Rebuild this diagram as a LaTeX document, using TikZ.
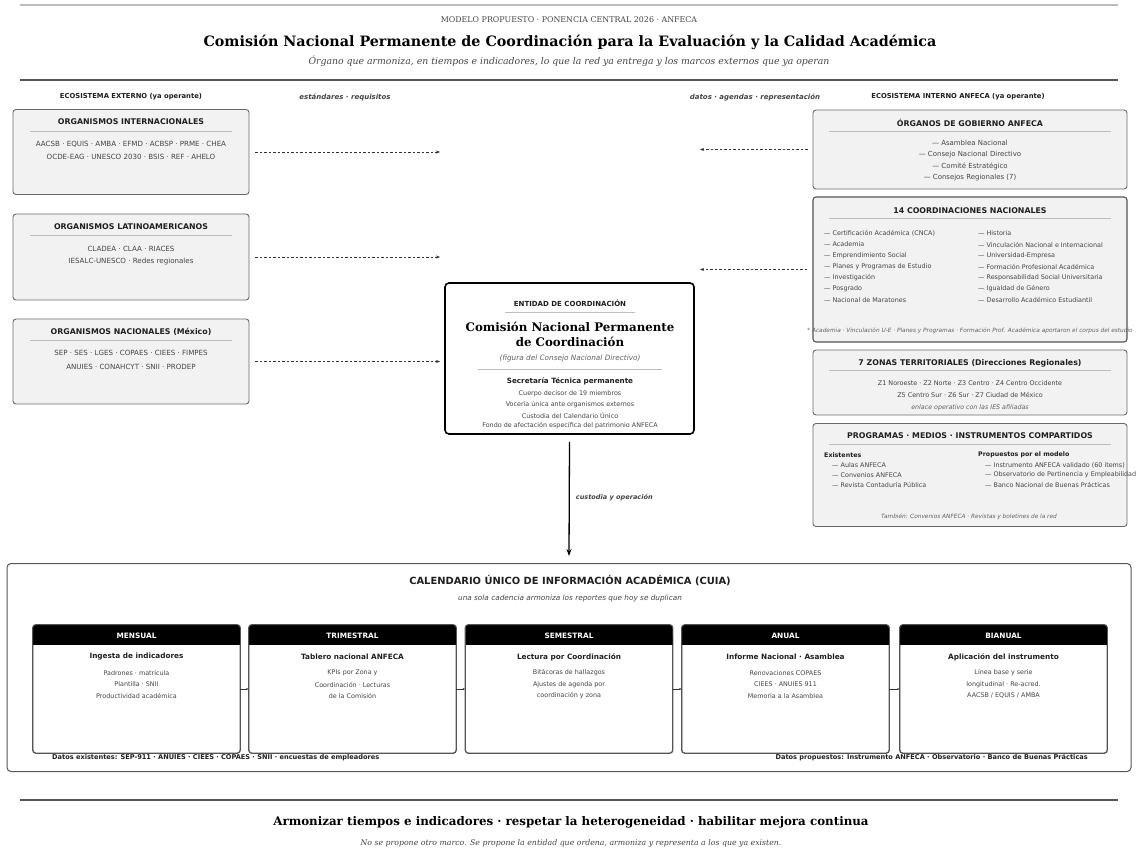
\documentclass[tikz,border=0pt]{standalone}
\usepackage{fontspec}
\setmainfont{DejaVu Serif}
\setsansfont{DejaVu Sans}
\usetikzlibrary{arrows.meta}
\definecolor{boxfill}{HTML}{F2F2F2}
\definecolor{boxline}{HTML}{6A6A6A}
\definecolor{txt}{HTML}{444444}
\definecolor{rulec}{HTML}{BDBDBD}
\definecolor{darkrule}{HTML}{555555}
\newcommand{\fs}[1]{\fontsize{#1}{#1}\selectfont}
\tikzset{
  panel/.style={draw=boxline, line width=0.9pt, fill=boxfill, rounded corners=3pt, inner sep=0pt},
  panelD/.style={draw=darkrule, line width=1.1pt, fill=boxfill, rounded corners=3pt, inner sep=0pt},
  calbox/.style={draw=darkrule, line width=0.8pt, fill=white, rounded corners=3pt, inner sep=0pt, minimum width=207, minimum height=128},
  ptitle/.style={font=\sffamily\bfseries\fs{7.85}, text=black!88, inner sep=0pt},
  body/.style={font=\sffamily\fs{6.4}, text=txt, inner sep=0pt},
  bodyW/.style={font=\sffamily\fs{7.1}, text=txt, inner sep=0pt},
  bodyL/.style={font=\sffamily\fs{6.4}, text=txt, inner sep=0pt, anchor=west},
  note/.style={font=\sffamily\itshape\fs{5.8}, text=txt!85, inner sep=0pt},
  collab/.style={font=\sffamily\bfseries\fs{6.8}, text=black!88, inner sep=0pt},
  flowlab/.style={font=\sffamily\bfseries\itshape\fs{7}, text=txt, inner sep=0pt},
  trule/.style={rulec, line width=0.9pt},
  dasharrow/.style={dashed, dash pattern=on 2.5pt off 2pt, line width=0.6pt, black!80, -{Stealth[length=4pt,width=3pt]}},
  calarrow/.style={line width=0.5pt, black!80, -{Stealth[length=2.5pt,width=2pt]}},
  hdr/.style={font=\sffamily\bfseries\fs{7.35}, text=white, inner sep=0pt},
  csub/.style={font=\sffamily\bfseries\fs{7.3}, text=black!88, inner sep=0pt},
}
\begin{document}
\begin{tikzpicture}[x=1pt,y=-1pt]
\useasboundingbox[fill=white] (0,0) rectangle (1138,853);

% ---------- header ----------
\draw[rulec, line width=1.5pt] (20,5) -- (1118,5);
\node[font=\rmfamily\fs{7.9}, text=txt, inner sep=0pt] (kicker) at (569,20) {MODELO PROPUESTO · PONENCIA CENTRAL 2026 · ANFECA};
\node[font=\rmfamily\bfseries\fs{14.3}, text=black, inner sep=0pt] (title) at (570,42) {Comisión Nacional Permanente de Coordinación para la Evaluación y la Calidad Académica};
\node[font=\rmfamily\itshape\fs{9.3}, text=txt, inner sep=0pt] (subtitle) at (569,61) {Órgano que armoniza, en tiempos e indicadores, lo que la red ya entrega y los marcos externos que ya operan};
\draw[darkrule, line width=1.5pt] (20,80) -- (1118,80);

\node[collab] (extlab) at (131,97) {ECOSISTEMA EXTERNO (ya operante)};
\node[flowlab] (stdlab) at (345,97) {estándares · requisitos};
\node[flowlab] (datlab) at (755,97) {datos · agendas · representación};
\node[collab] (intlab) at (958,97) {ECOSISTEMA INTERNO ANFECA (ya operante)};

% ---------- left boxes ----------
\node[panel, minimum width=236, minimum height=85] (lb1) at (131,152) {};
\node[ptitle] (lb1t) at (131,122) {ORGANISMOS INTERNACIONALES};
\draw[trule] (30,131) -- (232,131);
\node[bodyW] (lb1a) at (131,144) {AACSB · EQUIS · AMBA · EFMD · ACBSP · PRME · CHEA};
\node[bodyW] (lb1b) at (131,157) {OCDE-EAG · UNESCO 2030 · BSIS · REF · AHELO};

\node[panel, minimum width=236, minimum height=86] (lb2) at (131,257) {};
\node[ptitle] (lb2t) at (131,227) {ORGANISMOS LATINOAMERICANOS};
\draw[trule] (30,235) -- (232,235);
\node[bodyW] (lb2a) at (131,249) {CLADEA · CLAA · RIACES};
\node[bodyW] (lb2b) at (131,262) {IESALC-UNESCO · Redes regionales};

\node[panel, minimum width=236, minimum height=85] (lb3) at (131,361.5) {};
\node[ptitle] (lb3t) at (131,332) {ORGANISMOS NACIONALES (México)};
\draw[trule] (30,340) -- (232,340);
\node[bodyW] (lb3a) at (131,353) {SEP · SES · LGES · COPAES · CIEES · FIMPES};
\node[bodyW] (lb3b) at (131,366.5) {ANUIES · CONAHCYT · SNII · PRODEP};

\coordinate (la1) at (440,152);
\coordinate (la2) at (440,257);
\coordinate (la3) at (440,361.5);
\draw[dasharrow] ([xshift=6pt]lb1.east) -- (la1);
\draw[dasharrow] ([xshift=6pt]lb2.east) -- (la2);
\draw[dasharrow] ([xshift=6pt]lb3.east) -- (la3);

% ---------- right boxes ----------
\node[panel, minimum width=314, minimum height=79] (rg1) at (970,149.5) {};
\node[ptitle] (rg1t) at (970,123) {ÓRGANOS DE GOBIERNO ANFECA};
\draw[trule] (829,131) -- (1111,131);
\node[font=\sffamily\fs{6.95}, text=txt, inner sep=0pt] (rg1a) at (970,143) {— Asamblea Nacional};
\node[font=\sffamily\fs{6.95}, text=txt, inner sep=0pt] (rg1b) at (970,154.5) {— Consejo Nacional Directivo};
\node[font=\sffamily\fs{6.95}, text=txt, inner sep=0pt] (rg1c) at (970,166) {— Comité Estratégico};
\node[font=\sffamily\fs{6.95}, text=txt, inner sep=0pt] (rg1d) at (970,178) {— Consejos Regionales (7)};

\node[panelD, minimum width=314, minimum height=145] (rg2) at (970,269.5) {};
\node[ptitle] (rg2t) at (970,211) {14 COORDINACIONES NACIONALES};
\draw[trule] (829,218) -- (1111,218);
\node[bodyL] (c1) at (824,233) {— Certificación Académica (CNCA)};
\node[bodyL] (c2) at (824,244.5) {— Academia};
\node[bodyL] (c3) at (824,255.5) {— Emprendimiento Social};
\node[bodyL] (c4) at (824,266.5) {— Planes y Programas de Estudio};
\node[bodyL] (c5) at (824,278) {— Investigación};
\node[bodyL] (c6) at (824,289) {— Posgrado};
\node[bodyL] (c7) at (824,300) {— Nacional de Maratones};
\node[bodyL] (c8) at (978,233) {— Historia};
\node[bodyL] (c9) at (978,244.5) {— Vinculación Nacional e Internacional};
\node[bodyL] (c10) at (978,255.5) {— Universidad-Empresa};
\node[bodyL] (c11) at (978,266.5) {— Formación Profesional Académica};
\node[bodyL] (c12) at (978,278) {— Responsabilidad Social Universitaria};
\node[bodyL] (c13) at (978,289) {— Igualdad de Género};
\node[bodyL] (c14) at (978,300) {— Desarrollo Académico Estudiantil};
\node[note] (cnote) at (970,330.5) {* Academia · Vinculación U-E · Planes y Programas · Formación Prof. Académica aportaron el corpus del estudio};

\node[panel, minimum width=314, minimum height=65] (rg3) at (970,382.5) {};
\node[ptitle] (rg3t) at (970,363) {7 ZONAS TERRITORIALES (Direcciones Regionales)};
\draw[trule] (829,370) -- (1111,370);
\node[body] (z1) at (970,383) {Z1 Noroeste · Z2 Norte · Z3 Centro · Z4 Centro Occidente};
\node[body] (z2) at (970,394.5) {Z5 Centro Sur · Z6 Sur · Z7 Ciudad de México};
\node[font=\sffamily\itshape\fs{6.3}, text=txt!85, inner sep=0pt] (z3) at (970,408) {enlace operativo con las IES afiliadas};

\node[panel, minimum width=314, minimum height=103] (rg4) at (970,475) {};
\node[ptitle] (rg4t) at (970,436) {PROGRAMAS · MEDIOS · INSTRUMENTOS COMPARTIDOS};
\draw[trule] (829,444) -- (1111,444);
\node[font=\sffamily\bfseries\fs{6.3}, text=black!88, inner sep=0pt, anchor=west] (exh) at (824,455) {Existentes};
\node[bodyL] (e1) at (832,465) {— Aulas ANFECA};
\node[bodyL] (e2) at (832,475) {— Convenios ANFECA};
\node[bodyL] (e3) at (832,485) {— Revista Contaduría Pública};
\node[font=\sffamily\bfseries\fs{6.3}, text=black!88, inner sep=0pt, anchor=west] (prh) at (978,455) {Propuestos por el modelo};
\node[bodyL] (p1) at (985,465) {— Instrumento ANFECA validado (60 ítems)};
\node[bodyL] (p2) at (985,475) {— Observatorio de Pertinencia y Empleabilidad};
\node[bodyL] (p3) at (985,485) {— Banco Nacional de Buenas Prácticas};
\node[note] (pnote) at (969,517) {También: Convenios ANFECA · Revistas y boletines de la red};

\coordinate (ra1) at (700,149.5);
\coordinate (ra2) at (700,269.5);
\draw[dasharrow] ([xshift=-5pt]rg1.west) -- (ra1);
\draw[dasharrow] ([xshift=-5pt]rg2.west) -- (ra2);

% ---------- central box ----------
\node[draw=black, line width=1.6pt, fill=white, rounded corners=4pt, minimum width=249, minimum height=151, inner sep=0pt] (cb) at (569.5,358.5) {};
\node[font=\sffamily\bfseries\fs{7}, text=black!88, inner sep=0pt] (cbk) at (570,303) {ENTIDAD DE COORDINACIÓN};
\draw[trule] (505,312) -- (635,312);
\node[font=\rmfamily\bfseries\fs{11.8}, text=black, inner sep=0pt] (cbt1) at (570,327) {Comisión Nacional Permanente};
\node[font=\rmfamily\bfseries\fs{11.8}, text=black, inner sep=0pt] (cbt2) at (570,341.5) {de Coordinación};
\node[font=\sffamily\itshape\fs{7.3}, text=txt!85, inner sep=0pt] (cbfig) at (570,358.5) {(figura del Consejo Nacional Directivo)};
\draw[trule] (478,369.5) -- (662,369.5);
\node[font=\sffamily\bfseries\fs{7.2}, text=black!88, inner sep=0pt] (cbst) at (570,381) {Secretaría Técnica permanente};
\node[body] (cb1) at (570,394) {Cuerpo decisor de 19 miembros};
\node[body] (cb2) at (570,405) {Vocería única ante organismos externos};
\node[body] (cb3) at (570,415.5) {Custodia del Calendario Único};
\node[body] (cb4) at (570,426) {Fondo de afectación específica del patrimonio ANFECA};

% ---------- calendar ----------
\node[draw=darkrule, line width=1pt, fill=white, rounded corners=4pt, minimum width=1124, minimum height=208, inner sep=0pt] (cal) at (569,667.5) {};
\draw[line width=1.3pt, black, -{Stealth[length=7pt,width=5pt]}] ([yshift=-7pt]cb.south) -- ([yshift=7pt]cal.north) node[pos=0.49, right=6pt, font=\sffamily\bfseries\itshape\fs{6.55}, text=txt, inner sep=0pt] (custlab) {custodia y operación};
\node[font=\sffamily\bfseries\fs{9.9}, text=black!88, inner sep=0pt] (caltitle) at (570,581) {CALENDARIO ÚNICO DE INFORMACIÓN ACADÉMICA (CUIA)};
\node[font=\sffamily\itshape\fs{7.3}, text=txt, inner sep=0pt] (calsub) at (570,598) {una sola cadencia armoniza los reportes que hoy se duplican};

\foreach \nm/\cx/\hd/\st/\la/\lb/\lc in {
  k1/136.5/MENSUAL/Ingesta de indicadores/Padrones · matrícula/Plantilla · SNII/Productividad académica,
  k2/352.5/TRIMESTRAL/Tablero nacional ANFECA/KPIs por Zona y/Coordinación · Lecturas/de la Comisión,
  k3/569/SEMESTRAL/Lectura por Coordinación/Bitácoras de hallazgos/Ajustes de agenda por/coordinación y zona,
  k4/785.5/ANUAL/Informe Nacional · Asamblea/Renovaciones COPAES/CIEES · ANUIES 911/Memoria a la Asamblea,
  k5/1003.5/BIANUAL/Aplicación del instrumento/Línea base y serie/longitudinal · Re-acred./{AACSB / EQUIS / AMBA}} {
  \node[calbox] (\nm) at (\cx,689) {};
  \fill[black, rounded corners=3pt] ([xshift=0.4pt,yshift=-0.4pt]\nm.north west) rectangle ([xshift=-0.4pt,yshift=-20pt]\nm.north east);
  \fill[black] ([xshift=0.4pt,yshift=-12pt]\nm.north west) rectangle ([xshift=-0.4pt,yshift=-20pt]\nm.north east);
  \draw[darkrule, line width=0.8pt, rounded corners=3pt] (\nm.north west) rectangle (\nm.south east);
  \node[hdr] (\nm h) at (\cx,636) {\hd};
  \node[csub] (\nm s) at (\cx,657) {\st};
  \node[body] (\nm a) at (\cx,673) {\la};
  \node[body] (\nm b) at (\cx,684.5) {\lb};
  \node[body] (\nm c) at (\cx,696) {\lc};
}
\draw[calarrow] (k1.east) -- (k2.west);
\draw[calarrow] (k2.east) -- (k3.west);
\draw[calarrow] (k3.east) -- (k4.west);
\draw[calarrow] (k4.east) -- (k5.west);

\node[font=\sffamily\bfseries\fs{6.6}, text=black!88, inner sep=0pt, anchor=west] (dex) at (52,758) {Datos existentes: SEP-911 · ANUIES · CIEES · COPAES · SNII · encuestas de empleadores};
\node[font=\sffamily\bfseries\fs{6.6}, text=black!88, inner sep=0pt, anchor=east] (dpr) at (1088,758) {Datos propuestos: Instrumento ANFECA · Observatorio · Banco de Buenas Prácticas};

% ---------- footer ----------
\draw[darkrule, line width=1.5pt] (20,800) -- (1118,800);
\node[font=\rmfamily\bfseries\fs{11.85}, text=black, inner sep=0pt] (tag) at (571,822) {Armonizar tiempos e indicadores · respetar la heterogeneidad · habilitar mejora continua};
\node[font=\rmfamily\itshape\fs{7.8}, text=txt, inner sep=0pt] (tagsub) at (571,843) {No se propone otro marco. Se propone la entidad que ordena, armoniza y representa a los que ya existen.};
\end{tikzpicture}
\end{document}
